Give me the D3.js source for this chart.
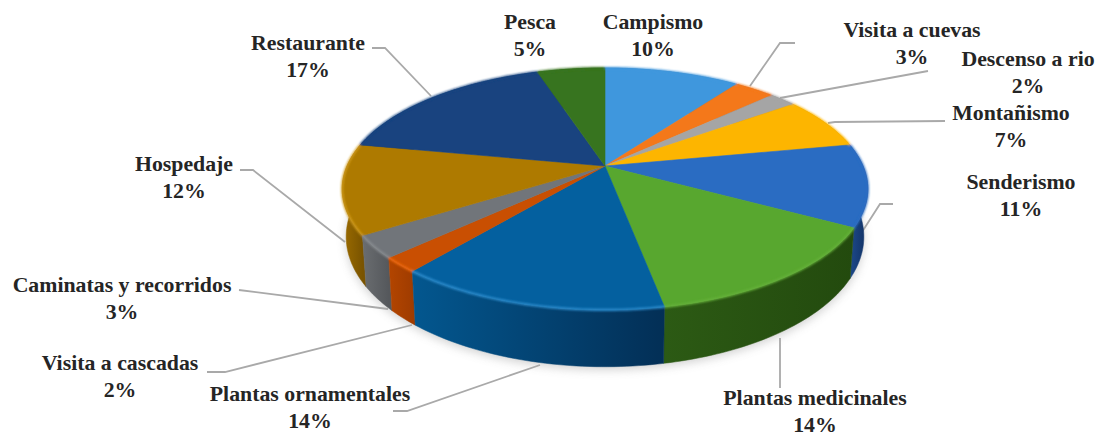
<!DOCTYPE html>
<html lang="es">
<head>
<meta charset="utf-8">
<script src="https://cdn.jsdelivr.net/npm/d3@7/dist/d3.min.js"></script>
<style>
  html, body { margin: 0; padding: 0; background: #fff; }
  svg { display: block; }
  .label { font-family: "Liberation Serif", serif; font-weight: 700; font-size: 21.8px; fill: #252525; text-anchor: middle; }
  .leader { fill: none; stroke: #a9a9a9; stroke-width: 1.8; }
</style>
</head>
<body>
<svg id="chart" width="1097" height="436"></svg>
<script>
// Actividades y su porcentaje, en sentido horario desde las doce
const categories = ["Campismo", "Visita a cuevas", "Descenso a rio", "Montañismo", "Senderismo",
  "Plantas medicinales", "Plantas ornamentales", "Visita a cascadas", "Caminatas y recorridos",
  "Hospedaje", "Restaurante", "Pesca"];
const percentages = [10, 3, 2, 7, 11, 14, 14, 2, 3, 12, 17, 5];

// Colours: top face, rim highlight, wall (left side), wall (right side)
const topColors = ["#3f97dd", "#f4781a", "#a5a5a5", "#fdb500", "#2a6cc2", "#58a72f",
  "#04609f", "#c94f02", "#71757a", "#ae7a00", "#19437f", "#37741f"];
const rimColors = ["#3f97dd", "#f4781a", "#a5a5a5", "#fdb500", "#2a6cc2", "#66b23a",
  "#2f8fd0", "#ef6a10", "#8a8e92", "#cf9a1c", "#19437f", "#37741f"];
const wallLeft = ["#2a6a9c", "#a85010", "#707070", "#a87a00", "#1d4a8c", "#2c5a14",
  "#03578f", "#b34500", "#6a6d70", "#9c6c00", "#10305c", "#25501a"];
const wallRight = ["#2a6a9c", "#a85010", "#707070", "#a87a00", "#102f60", "#234a0e",
  "#032f56", "#a03c00", "#55585c", "#7a5400", "#10305c", "#25501a"];

// Label text anchors and leader polylines, in page pixels
const labelAnchors = [
  [653, 29], [912, 37], [1028, 66], [1011, 120], [1021, 189], [815, 405],
  [310, 401], [120, 370], [122, 292], [184, 171], [308, 50], [530, 29]
];
const leaderPaths = [
  null,
  [[795, 43], [780, 43], [750, 86]],
  [[928, 71], [780, 98]],
  [[945, 121], [835, 122], [828, 123]],
  [[893, 204], [880, 204], [862, 232]],
  [[780, 388], [780, 338]],
  [[393, 411], [407, 411], [540, 365]],
  [[207, 372], [225, 372], [412, 325]],
  [[239, 290], [388, 309]],
  [[240, 170], [253, 170], [345, 242]],
  [[372, 48], [385, 48], [431, 96]],
  null
];

// Perspective disc: the apex sits above the centre of the projected ellipse
const apex = { x: 605, y: 166 };
const persp = -0.19, radiusX = 258, radiusY = 116.6, wallDepth = 46, baseInset = 0.985;

function project(angle, lift) {
  const u = Math.sin(angle), v = -Math.cos(angle);
  const w = 1 + persp * v;
  const sx = lift ? baseInset : 1;
  return [apex.x + sx * radiusX * u / w, apex.y + radiusY * v / w + (lift ? wallDepth / w : 0)];
}

const svg = d3.select("#chart");
const defs = svg.append("defs");

defs.append("filter").attr("id", "soft").attr("x", "-10%").attr("y", "-10%").attr("width", "120%").attr("height", "130%")
  .append("feGaussianBlur").attr("stdDeviation", 5);
defs.append("filter").attr("id", "glow")
  .attr("filterUnits", "userSpaceOnUse").attr("x", 0).attr("y", 0).attr("width", 1097).attr("height", 436)
  .append("feGaussianBlur").attr("stdDeviation", 0.9);

const arcs = d3.pie().sort(null).value(d => d)(percentages);
const line = d3.line();

function rimAngles(a) {
  const n = Math.max(4, Math.ceil((a.endAngle - a.startAngle) / 0.02));
  return d3.range(n + 1).map(i => a.startAngle + (a.endAngle - a.startAngle) * i / n);
}

// Soft shadow cast by the lower rim
const fullCircle = d3.range(0, 2 * Math.PI, 0.02);
svg.append("path")
  .attr("d", line(fullCircle.map(t => project(t, true))) + "Z")
  .attr("transform", "translate(0,3)")
  .attr("fill", "#9a9a9a").attr("opacity", 0.45)
  .attr("filter", "url(#soft)");

// Leader lines from the labels to the disc
svg.append("g").selectAll("path")
  .data(leaderPaths.filter(Boolean))
  .join("path")
  .attr("class", "leader")
  .attr("d", d => line(d));

// Walls, back to front
const wallGroup = svg.append("g");
const walls = arcs.map((a, i) => ({ a, i, depth: -Math.cos((a.startAngle + a.endAngle) / 2) }))
  .sort((p, q) => p.depth - q.depth);

walls.forEach(({ a, i }) => {
  const angles = rimAngles(a);
  const upper = angles.map(t => project(t, false));
  const lower = angles.map(t => project(t, true)).reverse();
  const xs = upper.map(p => p[0]);
  const grad = defs.append("linearGradient").attr("id", "wall" + i)
    .attr("gradientUnits", "userSpaceOnUse")
    .attr("x1", d3.min(xs)).attr("x2", d3.max(xs)).attr("y1", 0).attr("y2", 0);
  grad.append("stop").attr("offset", 0).attr("stop-color", wallLeft[i]);
  grad.append("stop").attr("offset", 1).attr("stop-color", wallRight[i]);
  wallGroup.append("path")
    .attr("d", line(upper.concat(lower)) + "Z")
    .attr("fill", `url(#wall${i})`)
    .attr("stroke", `url(#wall${i})`).attr("stroke-width", 0.5);
});

// Top faces
const faces = svg.append("g");
arcs.forEach((a, i) => {
  const pts = [[apex.x, apex.y]].concat(rimAngles(a).map(t => project(t, false)));
  faces.append("path")
    .attr("d", line(pts) + "Z")
    .attr("fill", topColors[i])
    .attr("stroke", topColors[i]).attr("stroke-width", 0.6);
});

// Lit bevel along the rim of the top face
const rims = svg.append("g").attr("filter", "url(#glow)");
arcs.forEach((a, i) => {
  rims.append("path")
    .attr("d", line(rimAngles(a).map(t => project(t, false))))
    .attr("fill", "none").attr("stroke", rimColors[i]).attr("stroke-width", 2.2);
});

// Two-line labels: name above, percentage below
const lineGap = 26.5;
const labels = svg.append("g").selectAll("text")
  .data(categories)
  .join("text")
  .attr("class", "label")
  .attr("x", (d, i) => labelAnchors[i][0])
  .attr("y", (d, i) => labelAnchors[i][1]);
labels.append("tspan").text(d => d);
labels.append("tspan")
  .attr("x", (d, i) => labelAnchors[i][0])
  .attr("dy", lineGap)
  .text((d, i) => percentages[i] + "%");
</script>
</body>
</html>
